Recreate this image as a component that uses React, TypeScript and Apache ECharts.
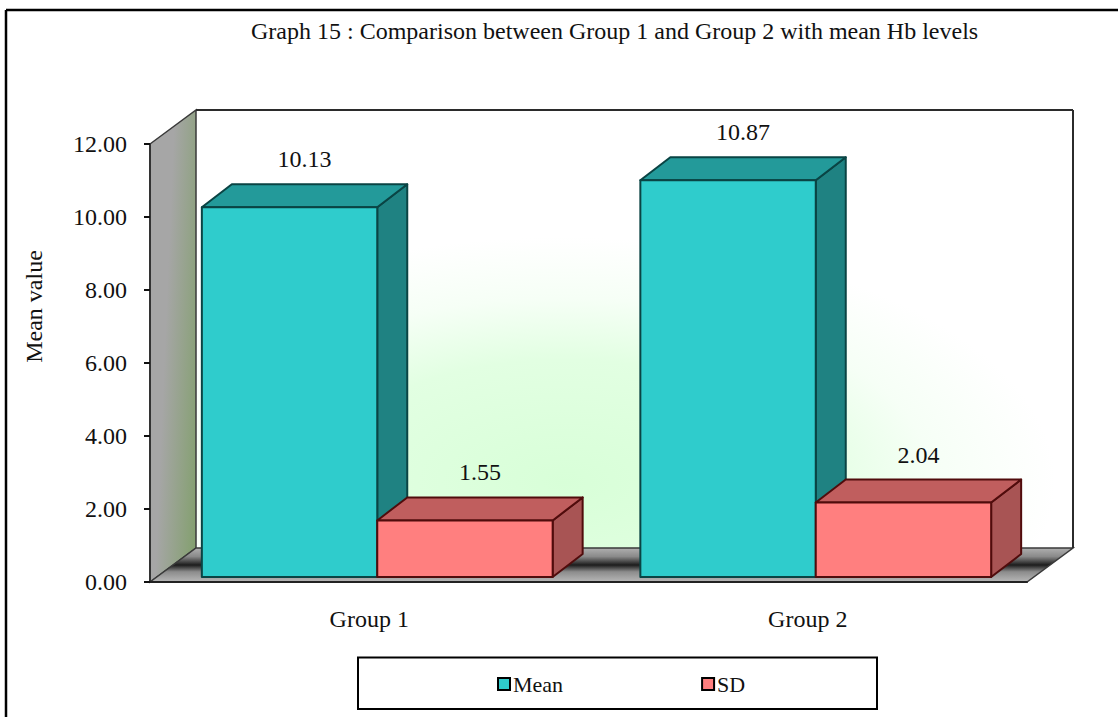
import React, { useEffect, useRef } from "react";
import * as echarts from "echarts";

const titleText = "Graph 15 : Comparison between Group 1 and Group 2 with mean Hb levels";
const categories = ["Group 1", "Group 2"];
const meanValues = [10.13, 10.87];
const sdValues = [1.55, 2.04];
const yTicks = { min: 0, max: 12, step: 2 };

const SERIF = '"Liberation Serif", "Times New Roman", serif';
const WALL_DEPTH = [46, -34];
const BAR_DEPTH = [30, -23];
const FLOOR_INSET = [8, -5];
const BAR_SHARE = 0.4;

const meanFaces = { front: "#2fcccc", top: "#239a9a", side: "#1f8282", edge: "#0a4444" };
const sdFaces = { front: "#ff7f7f", top: "#c05e5e", side: "#a85454", edge: "#500c0c" };

type Faces = typeof meanFaces;

// Extruded column: front, top and side faces plus the value printed above it.
function columnRenderer(faces: Faces, slot: number) {
  return (_params: any, api: any) => {
    const value = api.value(1);
    const [cx, y0] = api.coord([api.value(0), 0]);
    const [, y1] = api.coord([api.value(0), value]);
    const band = api.size([1, 0])[0];
    const w = band * BAR_SHARE;
    const l = cx + FLOOR_INSET[0] - w + slot * w;
    const r = l + w;
    const b = y0 + FLOOR_INSET[1];
    const t = y1 + FLOOR_INSET[1];
    const [dx, dy] = BAR_DEPTH;
    const edge = { stroke: faces.edge, lineWidth: 2, lineJoin: "round" };
    return {
      type: "group",
      children: [
        { type: "polygon", shape: { points: [[r, t], [r + dx, t + dy], [r + dx, b + dy], [r, b]] }, style: { fill: faces.side, ...edge } },
        { type: "polygon", shape: { points: [[l, t], [l + dx, t + dy], [r + dx, t + dy], [r, t]] }, style: { fill: faces.top, ...edge } },
        { type: "rect", shape: { x: l, y: t, width: w, height: b - t }, style: { fill: faces.front, ...edge } },
        {
          type: "text",
          style: {
            text: value.toFixed(2),
            x: (l + r + dx) / 2,
            y: t + dy - 25,
            fill: "#111",
            font: `24px ${SERIF}`,
            align: "center",
            verticalAlign: "middle",
          },
        },
      ],
    };
  };
}

// Back wall, side wall and floor of the plot box, taken from the grid rectangle.
function roomRenderer(params: any) {
  const { x, y, width, height } = params.coordSys;
  const [dx, dy] = WALL_DEPTH;
  const right = x + width;
  const bottom = y + height;
  const line = { stroke: "#2b2b2b", lineWidth: 2 };
  return {
    type: "group",
    children: [
      {
        type: "rect",
        shape: { x: x + dx, y: y + dy, width, height },
        style: {
          fill: {
            type: "radial", x: 0.42, y: 0.85, r: 0.56,
            colorStops: [
              { offset: 0, color: "#d8ffd8" },
              { offset: 0.5, color: "#e2ffe2" },
              { offset: 0.75, color: "#f6fff6" },
              { offset: 1, color: "#ffffff" },
            ],
          },
        },
      },
      {
        type: "polygon",
        shape: { points: [[x, y], [x + dx, y + dy], [x + dx, bottom + dy], [x, bottom]] },
        style: {
          fill: {
            type: "linear", x: 0.3, y: 0.55, x2: 1, y2: 0.85,
            colorStops: [
              { offset: 0, color: "#a6a6a6" },
              { offset: 1, color: "#84a070" },
            ],
          },
          stroke: "#3a3a3a",
          lineWidth: 1.5,
        },
      },
      {
        type: "polygon",
        shape: { points: [[x, bottom], [x + dx, bottom + dy], [right + dx, bottom + dy], [right, bottom]] },
        style: {
          fill: {
            type: "linear", x: 0, y: 0, x2: 0, y2: 1,
            colorStops: [
              { offset: 0, color: "#b0b0b0" },
              { offset: 0.25, color: "#8a8a8a" },
              { offset: 0.5, color: "#1c1c1c" },
              { offset: 0.7, color: "#8c8c8c" },
              { offset: 1, color: "#b8b8b8" },
            ],
          },
          stroke: "#3a3a3a",
          lineWidth: 1.5,
        },
      },
      { type: "line", shape: { x1: x + dx, y1: y + dy, x2: right + dx, y2: y + dy }, style: line },
      { type: "line", shape: { x1: right + dx, y1: y + dy, x2: right + dx, y2: bottom + dy }, style: line },
    ],
  };
}

function buildOption() {
  return {
    animation: false,
    backgroundColor: "#ffffff",
    textStyle: { fontFamily: SERIF },
    title: {
      text: titleText,
      left: 246,
      top: 14,
      textStyle: { fontFamily: SERIF, fontSize: 24, fontWeight: "normal", color: "#111" },
    },
    grid: { left: 150, top: 144, width: 877, height: 438 },
    xAxis: {
      type: "category",
      data: categories,
      z: 5,
      axisLine: { lineStyle: { color: "#222", width: 2 } },
      axisTick: { length: 8, lineStyle: { color: "#111", width: 2 } },
      axisLabel: { color: "#111", fontFamily: SERIF, fontSize: 24, margin: 25 },
    },
    yAxis: {
      type: "value",
      min: yTicks.min,
      max: yTicks.max,
      interval: yTicks.step,
      z: 5,
      name: "Mean value",
      nameLocation: "middle",
      nameGap: 104,
      nameRotate: 90,
      nameTextStyle: { color: "#111", fontFamily: SERIF, fontSize: 24, padding: [0, 0, 0, 113] },
      axisLine: { show: true, lineStyle: { color: "#333", width: 2 } },
      axisTick: { show: true, length: 6, lineStyle: { color: "#111", width: 2 } },
      splitLine: { show: false },
      axisLabel: {
        color: "#111",
        fontFamily: SERIF,
        fontSize: 24,
        margin: 23,
        formatter: (v: number) => v.toFixed(2),
      },
    },
    legend: {
      data: [
        { name: "Mean", icon: "rect", itemStyle: { borderColor: "#000", borderWidth: 2 } },
        { name: "SD", icon: "rect", itemStyle: { borderColor: "#000", borderWidth: 2 } },
      ],
      left: 497,
      top: 673,
      padding: 0,
      itemWidth: 12,
      itemHeight: 12,
      itemGap: 138,
      textStyle: { color: "#111", fontFamily: SERIF, fontSize: 22, padding: [0, 0, 0, -2] },
      selectedMode: false,
    },
    series: [
      {
        name: "room",
        type: "custom",
        z: 1,
        silent: true,
        clip: false,
        renderItem: roomRenderer,
        data: [[0, 0]],
      },
      {
        name: "Mean",
        type: "custom",
        z: 3,
        clip: false,
        itemStyle: { color: meanFaces.front },
        renderItem: columnRenderer(meanFaces, 0),
        encode: { x: 0, y: 1 },
        data: categories.map((_, i) => [i, meanValues[i]]),
      },
      {
        name: "SD",
        type: "custom",
        z: 3,
        clip: false,
        itemStyle: { color: sdFaces.front },
        renderItem: columnRenderer(sdFaces, 1),
        encode: { x: 0, y: 1 },
        data: categories.map((_, i) => [i, sdValues[i]]),
      },
    ],
    graphic: [
      { type: "line", shape: { x1: 6, y1: 10, x2: 1118, y2: 10 }, style: { stroke: "#000", lineWidth: 2.5 }, z: 10 },
      { type: "line", shape: { x1: 6, y1: 10, x2: 6, y2: 717 }, style: { stroke: "#000", lineWidth: 2.5 }, z: 10 },
      {
        type: "rect",
        shape: { x: 358, y: 657.5, width: 519, height: 51.5 },
        style: { fill: "none", stroke: "#000", lineWidth: 2 },
        z: 10,
      },
    ],
  };
}

export default function App() {
  const ref = useRef<HTMLDivElement>(null);
  useEffect(() => {
    if (!ref.current) return;
    const chart = echarts.init(ref.current, undefined, { renderer: "svg" });
    chart.setOption(buildOption() as any);
    return () => chart.dispose();
  }, []);
  return (
    <div
      ref={ref}
      style={{ position: "fixed", left: 0, top: 0, width: 1118, height: 717, background: "#fff" }}
    />
  );
}
